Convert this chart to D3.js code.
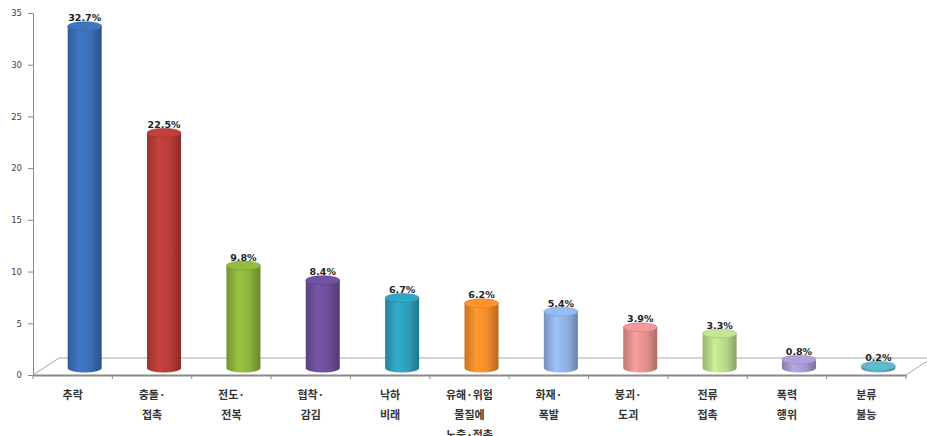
<!DOCTYPE html>
<html><head><meta charset="utf-8">
<script src="https://cdn.jsdelivr.net/npm/d3@7"></script>
<style>body{margin:0;background:#fff}svg{display:block}</style>
</head><body><svg id="c" width="927" height="436"></svg>
<script>
const categories = [["추락"],["충돌·","접촉"],["전도·","전복"],["협착·","감김"],["낙하","비래"],["유해·위험","물질에","노출·접촉"],["화재·","폭발"],["붕괴·","도괴"],["전류","접촉"],["폭력","행위"],["분류","불능"]];
const values = [32.7,22.5,9.8,8.4,6.7,6.2,5.4,3.9,3.3,0.8,0.2];
const valueLabels = ["32.7%","22.5%","9.8%","8.4%","6.7%","6.2%","5.4%","3.9%","3.3%","0.8%","0.2%"];
const colors = ["#3b6db3","#b53b38","#8ab03a","#6c4c98","#2d9bb8","#ef8a2b","#8eaee0","#e08f8d","#b6d688","#a596cc","#5aaec0"];
const yTicks = [0,5,10,15,20,25,30,35];

const svg = d3.select("#c");
const left = 33, right = 906, base = 375, depthX = 26, depthY = 17;
const x = d3.scaleBand().domain(d3.range(values.length)).range([left, right]).paddingInner(0).paddingOuter(0);
const y = d3.scaleLinear().domain([0,35]).range([base, 13]);
const yBar = d3.scaleLinear().domain([0,35]).range([368, 368 - 35*10.45]);
const bw = 34, ry = 4.5;

// floor
const g0 = svg.append("g");
g0.append("line").attr("x1",left).attr("y1",base).attr("x2",left+depthX).attr("y2",base-depthY).attr("stroke","#aaa").attr("stroke-width",1);
g0.append("line").attr("x1",left+depthX).attr("y1",base-depthY).attr("x2",right+depthX).attr("y2",base-depthY).attr("stroke","#aaa").attr("stroke-width",1.2);
g0.append("line").attr("x1",right).attr("y1",base).attr("x2",right+depthX).attr("y2",base-depthY).attr("stroke","#aaa").attr("stroke-width",1);

// y axis
const ya = svg.append("g").attr("transform",`translate(${left},0)`)
  .call(d3.axisLeft(y).tickValues(yTicks).tickSize(5).tickPadding(6));
ya.select(".domain").attr("stroke","#8a8a8a");
ya.selectAll(".tick line").attr("stroke","#8a8a8a");
ya.selectAll("text").attr("font-family","DejaVu Sans, sans-serif").attr("font-size",8.5).attr("fill","#444");

// x axis
const xa = svg.append("g").attr("transform",`translate(0,${base})`)
  .call(d3.axisBottom(x).tickSize(0).tickFormat(""));
xa.select(".domain").attr("stroke","#8a8a8a").attr("stroke-width",2);
svg.append("g").selectAll("line").data(d3.range(values.length+1)).join("line")
  .attr("x1",i=>left + i*x.step()).attr("x2",i=>left + i*x.step())
  .attr("y1",base).attr("y2",base+4).attr("stroke","#8a8a8a");

// gradients
const defs = svg.append("defs");
colors.forEach((c,i)=>{
  const gr = defs.append("linearGradient").attr("id","g"+i).attr("x1","0").attr("x2","1").attr("y1","0").attr("y2","0");
  const col = d3.color(c);
  gr.append("stop").attr("offset","0%").attr("stop-color",col.darker(0.5));
  gr.append("stop").attr("offset","35%").attr("stop-color",col.brighter(0.3));
  gr.append("stop").attr("offset","70%").attr("stop-color",c);
  gr.append("stop").attr("offset","100%").attr("stop-color",col.darker(0.8));
});

// cylinders
const bars = svg.append("g").selectAll("g").data(values).join("g");
const cx = (d,i)=> x(i) + x.bandwidth()/2 + 12;
bars.append("path").attr("d",(d,i)=>{
  const c = cx(d,i), yb = yBar(0), yt = yBar(d);
  return `M${c-bw/2},${yt} L${c-bw/2},${yb} A${bw/2},${ry} 0 0 0 ${c+bw/2},${yb} L${c+bw/2},${yt} Z`;
}).attr("fill",(d,i)=>`url(#g${i})`);
bars.append("ellipse").attr("cx",cx).attr("cy",d=>yBar(d)).attr("rx",bw/2).attr("ry",ry)
  .attr("fill",(d,i)=>d3.color(colors[i]).brighter(0.2)).attr("stroke",(d,i)=>d3.color(colors[i]).darker(0.3)).attr("stroke-width",0.6);

// value labels
svg.append("g").selectAll("text").data(values).join("text")
  .attr("x",cx).attr("y",d=>yBar(d)-5)
  .attr("text-anchor","middle").attr("font-family","DejaVu Sans, sans-serif").attr("font-size",9.5).attr("font-weight","bold").attr("fill","#222")
  .text((d,i)=>valueLabels[i]);

// category labels
const cl = svg.append("g").selectAll("text").data(categories).join("text")
  .attr("text-anchor","middle").attr("font-family","Noto Sans CJK KR, sans-serif").attr("font-size",11).attr("font-weight","bold").attr("fill","#333");
cl.each(function(lines,i){
  const t = d3.select(this);
  lines.forEach((s,k)=>{
    t.append("tspan").attr("x", x(i)+x.bandwidth()/2).attr("y", 399 + k*20).text(s);
  });
});
</script></body></html>
